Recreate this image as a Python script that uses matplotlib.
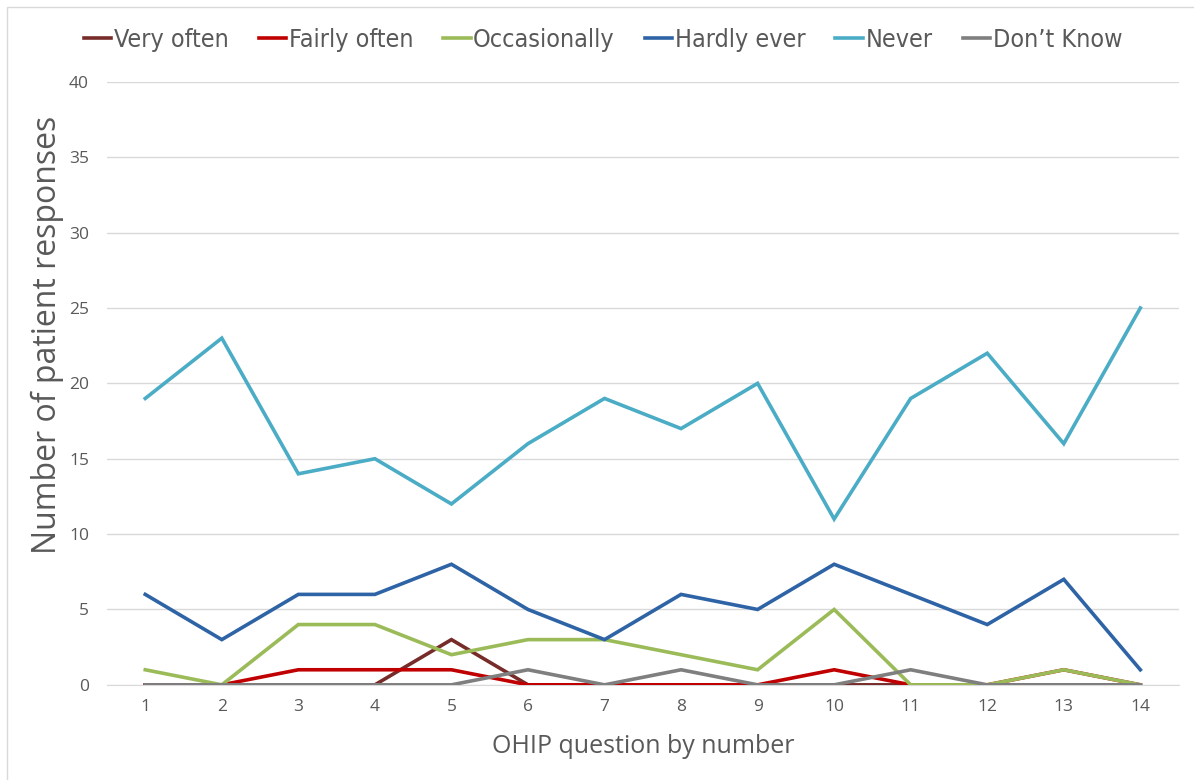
import matplotlib.pyplot as plt
from matplotlib.patches import Rectangle

# OHIP question numbers and the response counts for each answer
questions = list(range(1, 15))
very_often = [0, 0, 0, 0, 3, 0, 0, 0, 0, 0, 0, 0, 0, 0]
fairly_often = [0, 0, 1, 1, 1, 0, 0, 0, 0, 1, 0, 0, 1, 0]
occasionally = [1, 0, 4, 4, 2, 3, 3, 2, 1, 5, 0, 0, 1, 0]
hardly_ever = [6, 3, 6, 6, 8, 5, 3, 6, 5, 8, 6, 4, 7, 1]
never = [19, 23, 14, 15, 12, 16, 19, 17, 20, 11, 19, 22, 16, 25]
dont_know = [0, 0, 0, 0, 0, 1, 0, 1, 0, 0, 1, 0, 0, 0]

series = [
    ('Very often', very_often, '#772C2A'),
    ('Fairly often', fairly_often, '#C00000'),
    ('Occasionally', occasionally, '#9BBB59'),
    ('Hardly ever', hardly_ever, '#2E64A6'),
    ('Never', never, '#4BACC6'),
    ('Don\u2019t Know', dont_know, '#7F7F7F'),
]

plt.rcParams['font.family'] = ['Open Sans', 'DejaVu Sans']
text_color = '#595959'

fig = plt.figure(figsize=(11.94, 7.80), dpi=100)
ax = fig.add_axes([0.0896, 0.122, 0.8975, 0.773])

for name, vals, col in series:
    ax.plot(questions, vals, color=col, linewidth=2.6, label=name,
            solid_joinstyle='miter')

ax.set_xlim(0.5, 14.5)
ax.set_ylim(0, 40)
ax.set_xticks(questions)
ax.set_yticks(range(0, 41, 5))
ax.tick_params(axis='both', length=0, labelsize=12.5, labelcolor=text_color, pad=10)
ax.tick_params(axis='y', pad=13)
ax.grid(axis='y', color='#D9D9D9', linewidth=1)
ax.set_axisbelow(True)
for side in ['top', 'right', 'left']:
    ax.spines[side].set_visible(False)
ax.spines['bottom'].set_color('#D9D9D9')
ax.spines['bottom'].set_zorder(0.5)

ax.set_xlabel('OHIP question by number', fontsize=18, color=text_color, labelpad=14)
ax.set_ylabel('Number of patient responses', fontsize=23, color=text_color)
ax.yaxis.set_label_coords(-0.040, 0.58)

leg = fig.legend(loc='center', bbox_to_anchor=(0.505, 0.949), ncol=6, frameon=False,
                 handlelength=1.1, handletextpad=0.1, columnspacing=1.2,
                 prop={'family': 'DejaVu Sans', 'stretch': 'condensed', 'size': 18})
for t in leg.get_texts():
    t.set_color(text_color)

# thin frame around the chart area
fig.patches.append(Rectangle((7 / 1194, -0.1), 1.2, (773 + 78) / 780,
                             transform=fig.transFigure, fill=False,
                             edgecolor='#D9D9D9', linewidth=1))

fig.savefig('out.png', dpi=100)
